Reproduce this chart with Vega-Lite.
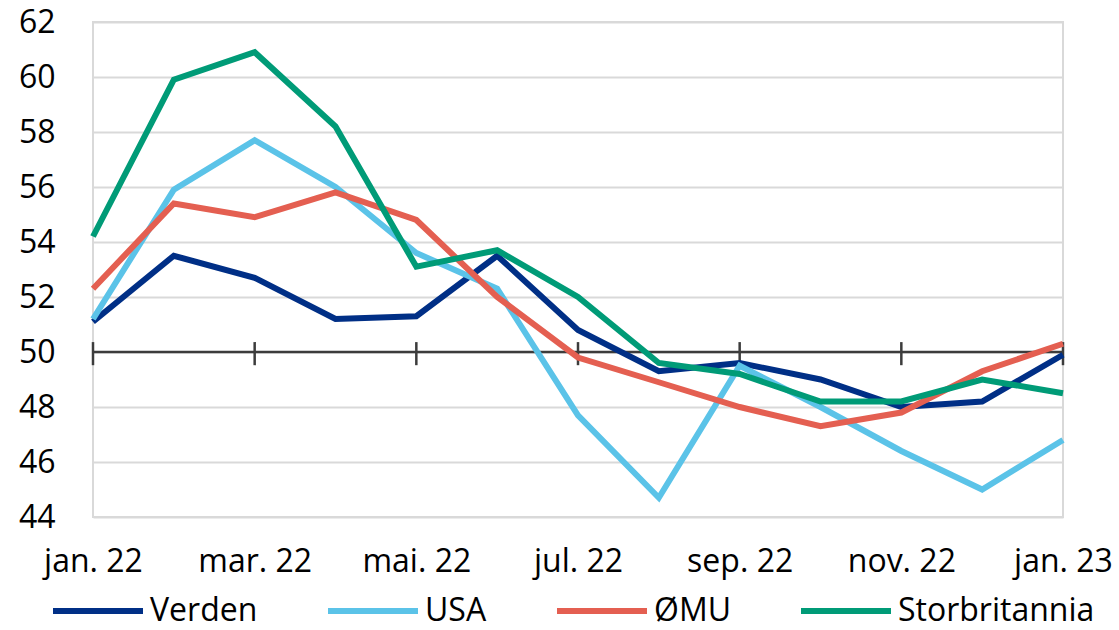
{
  "$schema": "https://vega.github.io/schema/vega-lite/v6.json",
  "width": 970,
  "height": 495,
  "autosize": {"type": "none"},
  "padding": {"left": 93, "top": 22, "right": 56, "bottom": 113},
  "background": "white",
  "config": {
    "font": "Open Sans",
    "view": {"stroke": "#d9d9d9", "strokeWidth": 2},
    "axis": {"labelFont": "Open Sans", "labelColor": "#000000", "labelFontSize": 32}
  },
  "datasets": {
    "series": [
      {"m": "jan. 22", "s": "Verden", "v": 51.1},
      {"m": "feb. 22", "s": "Verden", "v": 53.5},
      {"m": "mar. 22", "s": "Verden", "v": 52.7},
      {"m": "apr. 22", "s": "Verden", "v": 51.2},
      {"m": "mai. 22", "s": "Verden", "v": 51.3},
      {"m": "jun. 22", "s": "Verden", "v": 53.5},
      {"m": "jul. 22", "s": "Verden", "v": 50.8},
      {"m": "aug. 22", "s": "Verden", "v": 49.3},
      {"m": "sep. 22", "s": "Verden", "v": 49.6},
      {"m": "okt. 22", "s": "Verden", "v": 49.0},
      {"m": "nov. 22", "s": "Verden", "v": 48.0},
      {"m": "des. 22", "s": "Verden", "v": 48.2},
      {"m": "jan. 23", "s": "Verden", "v": 49.9},
      {"m": "jan. 22", "s": "USA", "v": 51.2},
      {"m": "feb. 22", "s": "USA", "v": 55.9},
      {"m": "mar. 22", "s": "USA", "v": 57.7},
      {"m": "apr. 22", "s": "USA", "v": 56.0},
      {"m": "mai. 22", "s": "USA", "v": 53.6},
      {"m": "jun. 22", "s": "USA", "v": 52.3},
      {"m": "jul. 22", "s": "USA", "v": 47.7},
      {"m": "aug. 22", "s": "USA", "v": 44.7},
      {"m": "sep. 22", "s": "USA", "v": 49.5},
      {"m": "okt. 22", "s": "USA", "v": 48.0},
      {"m": "nov. 22", "s": "USA", "v": 46.4},
      {"m": "des. 22", "s": "USA", "v": 45.0},
      {"m": "jan. 23", "s": "USA", "v": 46.8},
      {"m": "jan. 22", "s": "ØMU", "v": 52.3},
      {"m": "feb. 22", "s": "ØMU", "v": 55.4},
      {"m": "mar. 22", "s": "ØMU", "v": 54.9},
      {"m": "apr. 22", "s": "ØMU", "v": 55.8},
      {"m": "mai. 22", "s": "ØMU", "v": 54.8},
      {"m": "jun. 22", "s": "ØMU", "v": 52.0},
      {"m": "jul. 22", "s": "ØMU", "v": 49.8},
      {"m": "aug. 22", "s": "ØMU", "v": 48.9},
      {"m": "sep. 22", "s": "ØMU", "v": 48.0},
      {"m": "okt. 22", "s": "ØMU", "v": 47.3},
      {"m": "nov. 22", "s": "ØMU", "v": 47.8},
      {"m": "des. 22", "s": "ØMU", "v": 49.3},
      {"m": "jan. 23", "s": "ØMU", "v": 50.3},
      {"m": "jan. 22", "s": "Storbritannia", "v": 54.2},
      {"m": "feb. 22", "s": "Storbritannia", "v": 59.9},
      {"m": "mar. 22", "s": "Storbritannia", "v": 60.9},
      {"m": "apr. 22", "s": "Storbritannia", "v": 58.2},
      {"m": "mai. 22", "s": "Storbritannia", "v": 53.1},
      {"m": "jun. 22", "s": "Storbritannia", "v": 53.7},
      {"m": "jul. 22", "s": "Storbritannia", "v": 52.0},
      {"m": "aug. 22", "s": "Storbritannia", "v": 49.6},
      {"m": "sep. 22", "s": "Storbritannia", "v": 49.2},
      {"m": "okt. 22", "s": "Storbritannia", "v": 48.2},
      {"m": "nov. 22", "s": "Storbritannia", "v": 48.2},
      {"m": "des. 22", "s": "Storbritannia", "v": 49.0},
      {"m": "jan. 23", "s": "Storbritannia", "v": 48.5}
    ],
    "ticks": [
      {"m": "jan. 22"}, {"m": "mar. 22"}, {"m": "mai. 22"}, {"m": "jul. 22"},
      {"m": "sep. 22"}, {"m": "nov. 22"}, {"m": "jan. 23"}
    ]
  },
  "encoding": {
    "x": {
      "field": "m",
      "type": "ordinal",
      "sort": ["jan. 22", "feb. 22", "mar. 22", "apr. 22", "mai. 22", "jun. 22", "jul. 22", "aug. 22", "sep. 22", "okt. 22", "nov. 22", "des. 22", "jan. 23"],
      "scale": {"type": "point", "padding": 0, "domain": ["jan. 22", "feb. 22", "mar. 22", "apr. 22", "mai. 22", "jun. 22", "jul. 22", "aug. 22", "sep. 22", "okt. 22", "nov. 22", "des. 22", "jan. 23"]},
      "axis": {
        "title": null,
        "values": ["jan. 22", "mar. 22", "mai. 22", "jul. 22", "sep. 22", "nov. 22", "jan. 23"],
        "domain": false,
        "ticks": false,
        "tickSize": 0,
        "grid": false,
        "labelAngle": 0,
        "labelBaseline": "alphabetic",
        "labelPadding": 54,
        "labelFlush": false,
        "labelOverlap": false
      }
    }
  },
  "layer": [
    {
      "data": {"values": [{"y": 50}]},
      "mark": {"type": "rule", "color": "#3c3c3c", "strokeWidth": 2.5},
      "encoding": {
        "x": null,
        "y": {"datum": 50, "type": "quantitative", "scale": {"domain": [44, 62]}}
      }
    },
    {
      "data": {"name": "ticks"},
      "mark": {"type": "rule", "color": "#3c3c3c", "strokeWidth": 2.5},
      "encoding": {
        "y": {"datum": 49.52, "type": "quantitative"},
        "y2": {"datum": 50.36}
      }
    },
    {
      "data": {"name": "series"},
      "mark": {"type": "line", "strokeWidth": 6},
      "encoding": {
        "y": {
          "field": "v",
          "type": "quantitative",
          "scale": {"domain": [44, 62], "nice": false, "zero": false},
          "axis": {
            "title": null,
            "values": [44, 46, 48, 50, 52, 54, 56, 58, 60, 62],
            "domain": false,
            "ticks": false,
            "grid": true,
            "gridColor": "#d9d9d9",
            "gridWidth": 2,
            "labelPadding": 38
          }
        },
        "color": {
          "field": "s",
          "type": "nominal",
          "sort": ["Verden", "USA", "ØMU", "Storbritannia"],
          "scale": {
            "domain": ["Verden", "USA", "ØMU", "Storbritannia"],
            "range": ["#002F86", "#5BC3E8", "#E45F51", "#009B77"]
          },
          "legend": {
            "title": null,
            "orient": "none",
            "direction": "horizontal",
            "legendX": -43,
            "legendY": 541,
            "symbolType": "stroke",
            "symbolSize": 8100,
            "symbolStrokeWidth": 6,
            "labelFontSize": 32,
            "labelFont": "Open Sans",
            "labelColor": "#000000",
            "labelOffset": 4,
            "labelLimit": 400,
            "columnPadding": 58,
            "padding": 0
          }
        }
      }
    }
  ]
}
